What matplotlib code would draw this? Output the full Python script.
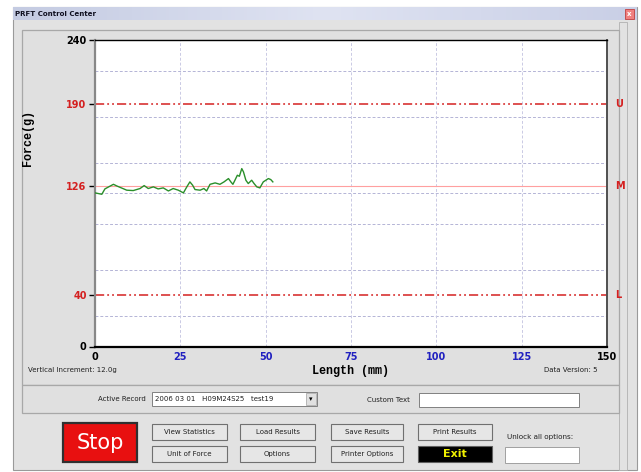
import numpy as np
import matplotlib
matplotlib.use("Agg")
import matplotlib.pyplot as plt
from matplotlib.patches import Rectangle

# === Данные графика ===
length_mm = [0.2, 2.0, 2.9, 5.4, 6.4, 9.3, 11.2, 13.2, 14.4, 15.6, 17.1, 18.5,
             20.0, 21.5, 22.9, 24.4, 25.9, 26.9, 27.8, 28.6, 29.3, 30.8, 31.9,
             32.7, 33.7, 35.2, 36.6, 37.8, 39.1, 39.8, 40.4, 41.0, 41.7, 42.3,
             43.0, 43.5, 44.2, 44.9, 45.9, 46.6, 47.4, 48.3, 49.3, 50.8, 51.5, 52.1]
force_g = [120.2, 119.2, 123.4, 127.0, 125.7, 122.4, 122.1, 123.7, 126.0, 123.7,
           125.0, 123.4, 124.2, 121.8, 123.7, 122.4, 120.3, 125.0, 128.9, 126.3,
           122.9, 122.4, 123.7, 121.8, 127.0, 128.1, 127.0, 128.9, 131.5, 128.9,
           127.0, 130.2, 134.1, 133.3, 139.3, 136.7, 130.2, 127.6, 130.2, 127.6,
           125.0, 124.2, 128.9, 131.5, 130.7, 128.9]

upper_limit = 190
mean_level = 126
lower_limit = 40
limit_names = ["U", "M", "L"]
grid_y = [24, 60, 96, 120, 144, 180, 216]
grid_x = [25, 50, 75, 100, 125]
x_ticks = [0, 25, 50, 75, 100, 125, 150]
x_tick_colors = ["black", "#2020c0", "#2020c0", "#2020c0", "#2020c0", "#2020c0", "black"]
y_ticks = [0, 40, 126, 190, 240]
y_tick_colors = ["black", "#d42020", "#d42020", "#d42020", "black"]

W, H = 641, 472
fig = plt.figure(figsize=(W / 100, H / 100), dpi=100)
fig.patch.set_facecolor("white")

# === Окно программы (фон в пикселях) ===
bg = fig.add_axes([0, 0, 1, 1])
bg.set_xlim(0, W)
bg.set_ylim(H, 0)
bg.axis("off")

def box(x0, y0, x1, y1, fc, ec="#a0a0a0", lw=0.8, z=1):
    bg.add_patch(Rectangle((x0, y0), x1 - x0, y1 - y0, facecolor=fc,
                           edgecolor=ec, linewidth=lw, zorder=z))

def label(x, y, s, size=5.5, color="#202020", ha="left", **kw):
    bg.text(x, y, s, fontsize=size, color=color, ha=ha, va="center",
            family="DejaVu Sans", zorder=5, **kw)

# окно и заголовок
box(13, 7, 637, 470, "#e2e2e2", ec="#9a9a9a", lw=0.8)
grad = np.linspace(0, 1, 200).reshape(1, -1)
bg.imshow(grad, extent=(13, 637, 20, 7), cmap=matplotlib.colors.LinearSegmentedColormap.from_list(
    "t", ["#c4cbe2", "#dfe3f2", "#c9cfe6"]), aspect="auto", zorder=2)
label(15, 14, "PRFT Control Center", size=5, color="#101020", weight="bold")
box(625, 9, 634, 19, "#f08080", ec="#c04040", lw=0.6, z=3)
label(629.5, 14, "x", size=5, color="white", ha="center", weight="bold")
box(619, 22, 627, 470, "#e2e2e2", ec="#b0b0b0", lw=0.6)

# панели
box(22, 30, 619, 385, "#e0e0e0", ec="#a8a8a8", lw=0.9)
box(22, 385, 619, 413, "#e0e0e0", ec="#a8a8a8", lw=0.9)

label(28, 370, "Vertical Increment: 12.0g", size=5)
label(597, 370, "Data Version: 5", size=5, ha="right")

# строка активной записи
label(146, 399, "Active Record", size=5, ha="right")
box(152, 392, 317, 406, "white", ec="#808080", lw=0.7)
label(155, 399, "2006 03 01   H09M24S25   test19", size=5)
box(306, 393, 316, 405, "#e0e0e0", ec="#a0a0a0", lw=0.5, z=3)
label(311, 399.5, "\u25be", size=5, ha="center", color="black")
label(410, 400, "Custom Text", size=5, ha="right")
box(419, 393, 579, 407, "white", ec="#808080", lw=0.7)

# кнопки
box(63, 423, 137, 462, "#e81010", ec="#303030", lw=1.6)
label(100, 443, "Stop", size=15, color="white", ha="center")
buttons = [("View Statistics", 152, 227, 424, 440), ("Unit of Force", 152, 227, 446, 462),
           ("Load Results", 240, 315, 424, 440), ("Options", 240, 315, 446, 462),
           ("Save Results", 331, 403, 424, 440), ("Printer Options", 331, 403, 446, 462),
           ("Print Results", 418, 492, 424, 440)]
for name, x0, x1, y0, y1 in buttons:
    box(x0, y0, x1, y1, "#e6e6e6", ec="#707070", lw=0.8)
    label((x0 + x1) / 2, (y0 + y1) / 2, name, size=5, ha="center")
box(418, 446, 492, 462, "black", ec="#606060", lw=0.8)
label(455, 454, "Exit", size=8, color="#f0f000", ha="center", weight="bold")
label(507, 437, "Unlock all options:", size=5.2)
box(505, 447, 579, 463, "white", ec="#a0a0a0", lw=0.7)

# === Сам график ===
l, r, t, b = 95, 607, 40, 346.5
ax = fig.add_axes([l / W, 1 - b / H, (r - l) / W, (b - t) / H])
ax.set_facecolor("white")
ax.set_xlim(0, 150)
ax.set_ylim(0, 240)

for gy in grid_y:
    ax.axhline(gy, color="#b4b4d6", lw=0.7, dashes=(3, 2), zorder=1)
for gx in grid_x:
    ax.axvline(gx, color="#cacae4", lw=0.7, dashes=(3, 2), zorder=1)

ax.axhline(mean_level, color="#ffa0a0", lw=0.8, zorder=2)
for lim in (upper_limit, lower_limit):
    ax.axhline(lim, color="#d42020", lw=1.1, dashes=(6, 2, 1.2, 2, 1.2, 2), zorder=2)

ax.plot(length_mm, force_g, color="#2a8f2a", lw=1.0, zorder=3)

ax.set_xticks(x_ticks)
ax.set_xticklabels([str(v) for v in x_ticks], fontsize=7, fontweight="bold")
for lab, c in zip(ax.get_xticklabels(), x_tick_colors):
    lab.set_color(c)
ax.set_yticks(y_ticks)
ax.set_yticklabels([str(v) for v in y_ticks], fontsize=7, fontweight="bold")
for lab, c in zip(ax.get_yticklabels(), y_tick_colors):
    lab.set_color(c)
ax.tick_params(axis="x", length=0, pad=4)
ax.tick_params(axis="y", length=4, width=1, color="black", pad=2)

for lim, name in zip([upper_limit, mean_level, lower_limit], limit_names):
    ax.text(152.5, lim, name, color="#d42020", fontsize=7, fontweight="bold",
            va="center", ha="left")

ax.set_xlabel("Length (mm)", family="Liberation Mono", fontsize=8.5,
              fontweight="bold", labelpad=2)
ax.set_ylabel("Force(g)", family="Liberation Mono", fontsize=8.5,
              fontweight="bold")
ax.yaxis.set_label_coords(-0.12, 0.68)

ax.spines["left"].set_color("#888888")
ax.spines["left"].set_linewidth(1.6)
ax.spines["bottom"].set_color("black")
ax.spines["bottom"].set_linewidth(1.6)
ax.spines["top"].set_color("black")
ax.spines["top"].set_linewidth(1.0)
ax.spines["right"].set_color("#505050")
ax.spines["right"].set_linewidth(1.4)

fig.savefig("out.png", dpi=100)
